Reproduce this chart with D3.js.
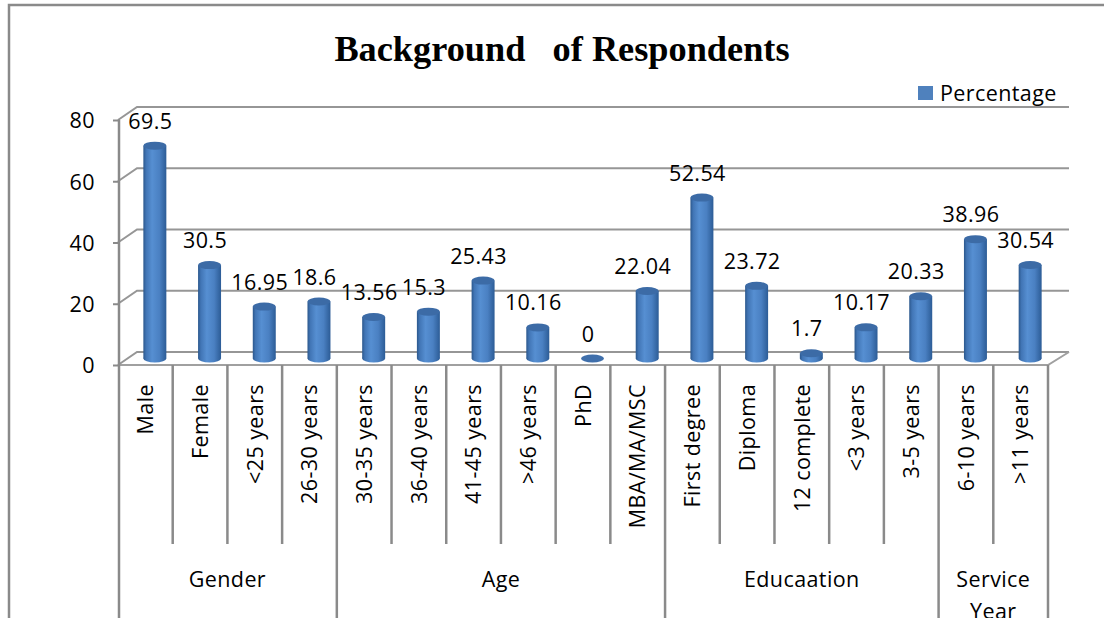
<!DOCTYPE html>
<html>
<head>
<meta charset="utf-8">
<script src="https://cdn.jsdelivr.net/npm/d3@7"></script>
<style>
  body { margin: 0; background: #fff; }
  svg { display: block; }
  text { font-family: "Open Sans", Lato, sans-serif; fill: #000; }
</style>
</head>
<body>
<svg id="chart" width="1104" height="618"></svg>
<script>
// chart data
const categories = ["Male", "Female", "<25 years", "26-30 years", "30-35 years", "36-40 years",
  "41-45 years", ">46 years", "PhD", "MBA/MA/MSC", "First degree", "Diploma", "12 complete",
  "<3 years", "3-5 years", "6-10 years", ">11 years"];
const percentages = [69.5, 30.5, 16.95, 18.6, 13.56, 15.3, 25.43, 10.16, 0, 22.04,
  52.54, 23.72, 1.7, 10.17, 20.33, 38.96, 30.54];
const groupNames = ["Gender", "Age", "Educaation", "Service Year"];
const groupSizes = [4, 6, 5, 2];
const yTicks = [0, 20, 40, 60, 80];

var svg = d3.select("#chart");

// 3d depth offset of the back wall
const depthX = 19, depthY = -13;
const fontSize = "21.5px", spacing = "0.4px";

var x = d3.scaleBand().domain(categories).range([118, 1048]);
var y = d3.scaleLinear().domain([0, 80]).range([365, 120]);

// outer frame
svg.append("rect")
  .attr("x", 9).attr("y", 5).attr("width", 1200).attr("height", 700)
  .attr("fill", "none").attr("stroke", "#8a8a8a").attr("stroke-width", 2.5);

// title
svg.append("text")
  .attr("x", 562).attr("y", 61)
  .attr("text-anchor", "middle")
  .style("white-space", "pre")
  .style("font-family", "'Liberation Serif', 'Times New Roman', serif")
  .style("font-weight", "bold")
  .style("font-size", "36.3px")
  .text("Background   of Respondents");

// legend
svg.append("rect").attr("x", 918).attr("y", 86).attr("width", 15).attr("height", 14)
  .attr("fill", "#4f81bd");
svg.append("text").attr("x", 940).attr("y", 101)
  .style("font-size", fontSize).style("letter-spacing", spacing)
  .text("Percentage");

// gridlines on side + back wall
var right = x.range()[1];
svg.append("g").selectAll("path")
  .data(yTicks)
  .join("path")
  .attr("d", d => "M" + x.range()[0] + "," + y(d) +
    "L" + (x.range()[0] + depthX) + "," + (y(d) + depthY) +
    "L" + (right + depthX + 2) + "," + (y(d) + depthY))
  .attr("fill", "none").attr("stroke", "#969696").attr("stroke-width", 2);

// floor front + right edge
svg.append("path")
  .attr("d", "M" + x.range()[0] + "," + y(0) + "L" + right + "," + y(0) +
    "L" + (right + depthX + 2) + "," + (y(0) + depthY))
  .attr("fill", "none").attr("stroke", "#a0a0a0").attr("stroke-width", 2);

// y axis
var yAxis = svg.append("g")
  .attr("transform", "translate(120,0)")
  .call(d3.axisLeft(y).tickValues(yTicks).tickSize(7).tickPadding(18));
yAxis.select(".domain").remove();
yAxis.selectAll("line").attr("stroke", "#8a8a8a").attr("stroke-width", 2);
yAxis.selectAll("text")
  .attr("font-family", null).attr("dy", "0.36em")
  .style("font-size", fontSize).style("letter-spacing", spacing);

// vertical axis line, continues as left border of category table
svg.append("line").attr("x1", 119).attr("x2", 119).attr("y1", y(80)).attr("y2", 618)
  .attr("stroke", "#8a8a8a").attr("stroke-width", 2.5);

// category separators
var groupEnds = d3.cumsum(groupSizes);
var bounds = d3.range(1, categories.length + 1);
svg.append("g").selectAll("line")
  .data(bounds)
  .join("line")
  .attr("x1", i => x.range()[0] + i * x.step())
  .attr("x2", i => x.range()[0] + i * x.step())
  .attr("y1", y(0))
  .attr("y2", i => groupEnds.includes(i) ? 618 : 544)
  .attr("stroke", "#8a8a8a").attr("stroke-width", 2.5);

// cylinder gradient
var defs = svg.append("defs");
var grad = defs.append("linearGradient").attr("id", "cyl")
  .attr("x1", "0%").attr("x2", "100%").attr("y1", "0%").attr("y2", "0%");
[["0%", "#2b578c"], ["12%", "#4175b5"], ["38%", "#568fd2"], ["70%", "#4a80c2"], ["100%", "#2c5c96"]]
  .forEach(s => grad.append("stop").attr("offset", s[0]).attr("stop-color", s[1]));

// bars
var bw = x.bandwidth() * 0.42;
var ry = 4;
var barX = d => x(d.cat) + x.bandwidth() / 2 + depthX / 2;
var base = y(0) + depthY / 2;
var barTop = d => base - (y(0) - y(d.value));
var rows = categories.map((c, i) => ({cat: c, value: percentages[i]}));

var bars = svg.append("g").selectAll("g")
  .data(rows)
  .join("g");
bars.append("ellipse")
  .attr("cx", barX).attr("cy", base).attr("rx", bw / 2).attr("ry", ry)
  .attr("fill", d => d.value > 0 ? "url(#cyl)" : "#3f6fab");
bars.filter(d => d.value > 0).append("rect")
  .attr("x", d => barX(d) - bw / 2).attr("width", bw)
  .attr("y", barTop).attr("height", d => base - barTop(d))
  .attr("fill", "url(#cyl)");
bars.filter(d => d.value > 0).append("ellipse")
  .attr("cx", barX).attr("cy", barTop).attr("rx", bw / 2).attr("ry", ry)
  .attr("fill", "#3c6ba6");

// value labels
svg.append("g").selectAll("text")
  .data(rows)
  .join("text")
  .attr("x", d => x(d.cat) + x.bandwidth() / 2 + 5)
  .attr("y", d => barTop(d) - 17)
  .attr("text-anchor", "middle")
  .style("font-size", fontSize).style("letter-spacing", spacing)
  .text(d => String(d.value));

// category labels (rotated)
svg.append("g").selectAll("text")
  .data(categories)
  .join("text")
  .attr("transform", d => "translate(" + (x(d) + x.bandwidth() / 2) + ",384) rotate(-90)")
  .attr("text-anchor", "end")
  .attr("dy", "0.36em")
  .style("font-size", fontSize).style("letter-spacing", spacing)
  .text(d => d);

// group labels
var groups = groupNames.map((g, i) => ({
  name: g,
  start: i === 0 ? 0 : groupEnds[i - 1],
  end: groupEnds[i]
}));
var groupText = svg.append("g").selectAll("text")
  .data(groups)
  .join("text")
  .attr("x", d => x.range()[0] + (d.start + d.end) / 2 * x.step())
  .attr("y", 587)
  .attr("text-anchor", "middle")
  .style("font-size", fontSize).style("letter-spacing", spacing);
// narrow group wraps onto two lines
groupText.each(function(d) {
  var words = (d.end - d.start) < 3 ? d.name.split(" ") : [d.name];
  d3.select(this).selectAll("tspan")
    .data(words)
    .join("tspan")
    .attr("x", d3.select(this).attr("x"))
    .attr("dy", (w, i) => i === 0 ? 0 : 32)
    .text(w => w);
});
</script>
</body>
</html>
